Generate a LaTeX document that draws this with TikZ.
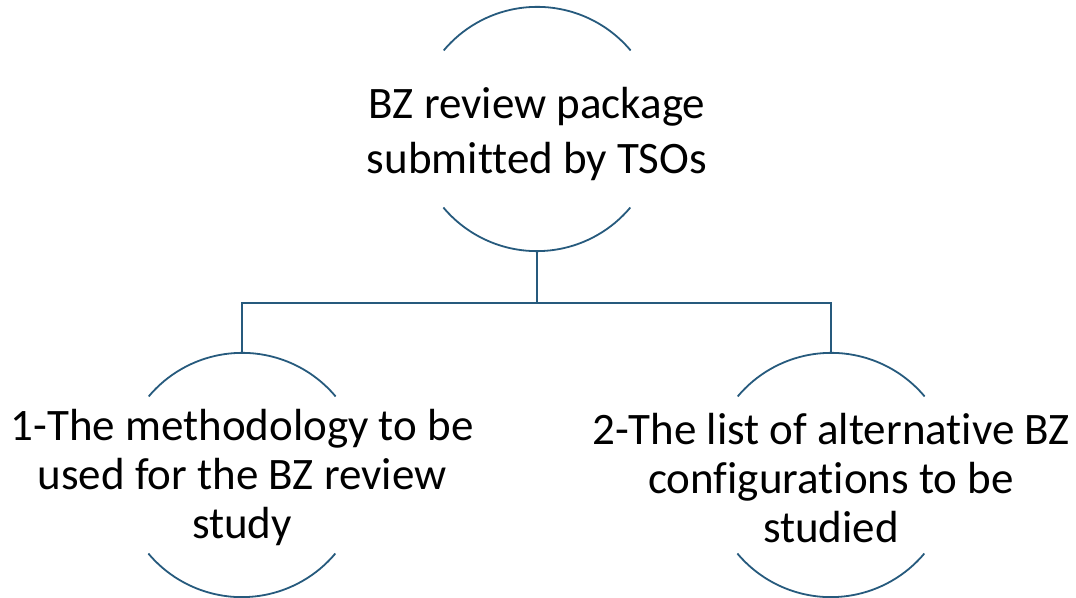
\documentclass[tikz,border=0pt]{standalone}
\usepackage{fontspec}
\setmainfont{Carlito}[RawFeature=-liga]
\usetikzlibrary{positioning}

\begin{document}
\begin{tikzpicture}[x=1pt,y=1pt,
  ring/.style={circle,minimum size=244pt,inner sep=0pt},
  caption/.style={align=center,font=\fontsize{45}{55}\selectfont,inner sep=0pt,yshift=-5pt},
  tight/.style={font=\fontsize{45}{49}\selectfont,yshift=2pt},
  arcline/.style={draw={rgb,255:red,38;green,90;blue,125},line width=1.8pt},
  link/.style={draw={rgb,255:red,38;green,90;blue,125},line width=1.8pt}]
\useasboundingbox (0,0) rectangle (1076,597);
\path (537,468) node[ring](top){}
  (242,122) node[ring](left){}
  (831,122) node[ring](right){}
  (537,294) coordinate(split);
% upper and lower parts of each ring
\foreach \r in {top,left,right}{
  \draw[arcline] (\r.40) arc[start angle=40,end angle=140,radius=122pt];
  \draw[arcline] (\r.220) arc[start angle=220,end angle=320,radius=122pt];
}
\node[caption] (topt) at (top) {BZ review package\\submitted by TSOs};
\node[caption,tight] (leftt) at (left) {1-The methodology to be\\used for the BZ review\\study};
\node[caption,tight] (rightt) at (right) {2-The list of alternative BZ\\configurations to be\\studied};
\draw[link] (top.south) -- (split);
\draw[link] (split) -| (left.north);
\draw[link] (split) -| (right.north);
\end{tikzpicture}
\end{document}
